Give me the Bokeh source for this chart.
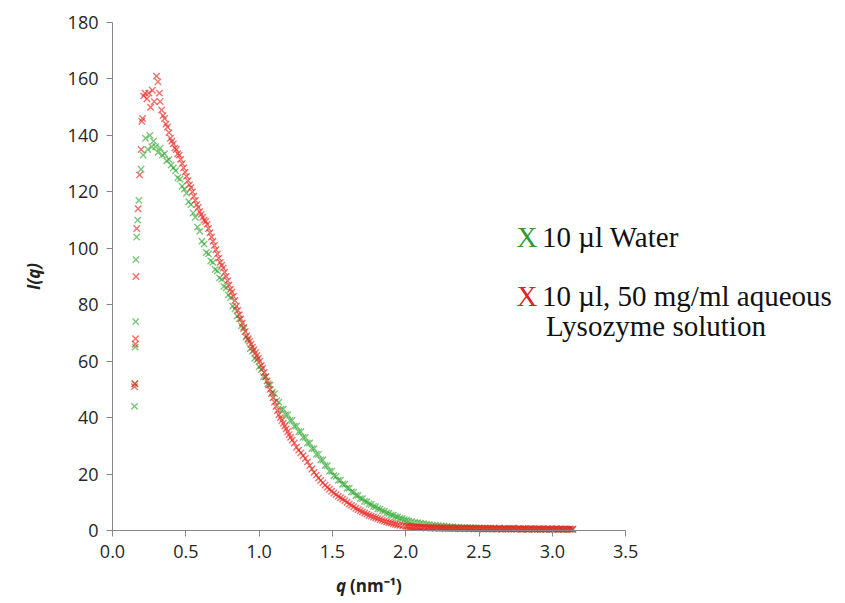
from bokeh.plotting import figure
from bokeh.models import Label, FixedTicker, Range1d
from bokeh.embed import file_html
from bokeh.resources import INLINE
import math

# ---------------- data ----------------
water_q = [0.150, 0.153, 0.155, 0.158, 0.160, 0.165, 0.172, 0.180, 0.195, 0.210, 0.225, 0.240, 0.255, 0.268,
           0.280, 0.295, 0.310, 0.325, 0.340, 0.355, 0.370, 0.385, 0.400, 0.415, 0.430, 0.445, 0.460, 0.475,
           0.490, 0.505, 0.520, 0.535, 0.550, 0.565, 0.580, 0.595, 0.610, 0.625, 0.640, 0.655, 0.670, 0.685,
           0.700, 0.715, 0.730, 0.745, 0.760, 0.775, 0.790, 0.805, 0.820, 0.835, 0.850, 0.865, 0.880, 0.895,
           0.910, 0.925, 0.940, 0.955, 0.970, 0.985, 1.000, 1.015, 1.030, 1.045, 1.060, 1.075, 1.090, 1.105,
           1.120, 1.135, 1.150, 1.165, 1.180, 1.195, 1.210, 1.225, 1.240, 1.255, 1.270, 1.285, 1.300, 1.315,
           1.330, 1.345, 1.360, 1.375, 1.390, 1.405, 1.420, 1.435, 1.450, 1.465, 1.480, 1.495, 1.510, 1.525,
           1.540, 1.555, 1.570, 1.585, 1.600, 1.615, 1.630, 1.645, 1.660, 1.675, 1.690, 1.705, 1.720, 1.735,
           1.750, 1.765, 1.780, 1.795, 1.810, 1.825, 1.840, 1.855, 1.870, 1.885, 1.900, 1.915, 1.930, 1.945,
           1.960, 1.975, 1.990, 2.005, 2.020, 2.040, 2.060, 2.080, 2.100, 2.120, 2.140, 2.160, 2.180, 2.200,
           2.220, 2.240, 2.260, 2.280, 2.300, 2.320, 2.340, 2.360, 2.380, 2.400, 2.420, 2.440, 2.460, 2.480,
           2.500, 2.520, 2.540, 2.560, 2.580, 2.600, 2.620, 2.640, 2.660, 2.680, 2.700, 2.720, 2.740, 2.760,
           2.780, 2.800, 2.820, 2.840, 2.860, 2.880, 2.900, 2.920, 2.940, 2.960, 2.980, 3.000, 3.020, 3.040,
           3.060, 3.080, 3.100, 3.120, 3.140]
water_I = [44, 52, 65, 74, 96, 104, 110, 117, 128, 133, 139, 135, 140, 136,
           138, 136, 134, 135.5, 133, 133.5, 131, 131.5, 129.5, 128.5, 127.5, 125, 124.5, 122,
           121, 119.5, 116.5, 115.5, 112.5, 111, 107.5, 106, 102.5, 101.5, 98.5, 98, 95.5, 95,
           92.5, 92, 89.5, 89, 86.5, 86, 83.5, 82.5, 79.5, 78.5, 76, 75, 72.5, 71.5,
           68.5, 67.5, 64.5, 63.5, 61, 60.5, 58, 57, 54.5, 54.5, 52, 51.5, 49, 48.5,
           46, 45.5, 43, 43, 41, 41, 39, 39, 37, 37, 35, 35, 33, 33,
           31, 31, 29, 29, 27, 27, 25, 25, 23, 23, 21, 21, 19.4, 19.2,
           17.8, 17.8, 16.4, 16.4, 15, 15, 13.7, 13.6, 12.4, 12.4, 11.3, 11.3, 10.3, 10.2,
           9.4, 9.2, 8.5, 8.4, 7.7, 7.6, 7.0, 6.8, 6.2, 6.1, 5.5, 5.4, 4.9, 4.8,
           4.3, 4.2, 3.8, 3.7, 3.4, 3.2, 2.9, 2.8, 2.6, 2.4, 2.2, 2.1, 1.9, 1.8,
           1.7, 1.6, 1.5, 1.4, 1.3, 1.3, 1.2, 1.1, 1.0, 1.1, 0.9, 1.0, 0.9, 0.8,
           0.9, 0.8, 0.7, 0.8, 0.7, 0.8, 0.6, 0.7, 0.6, 0.7, 0.6, 0.5, 0.7, 0.5,
           0.6, 0.5, 0.6, 0.4, 0.6, 0.5, 0.4, 0.6, 0.5, 0.4, 0.5, 0.4, 0.5, 0.4,
           0.5, 0.4, 0.5, 0.4, 0.4]

lyso_q = [0.150, 0.152, 0.155, 0.157, 0.160, 0.165, 0.175, 0.185, 0.195, 0.200, 0.205, 0.212, 0.222, 0.235,
          0.248, 0.260, 0.272, 0.285, 0.300, 0.310, 0.320, 0.325, 0.335, 0.345, 0.355, 0.365,
          0.375, 0.385, 0.395, 0.405, 0.415, 0.425, 0.435, 0.445, 0.455, 0.465, 0.475, 0.485, 0.495, 0.505,
          0.515, 0.525, 0.535, 0.545, 0.555, 0.565, 0.575, 0.585, 0.595, 0.605, 0.615, 0.625, 0.635, 0.645,
          0.655, 0.665, 0.675, 0.685, 0.695, 0.705, 0.715, 0.725, 0.735, 0.745, 0.755, 0.765, 0.775, 0.785,
          0.795, 0.805, 0.815, 0.825, 0.835, 0.845, 0.855, 0.865, 0.875, 0.885, 0.895, 0.905, 0.915, 0.925,
          0.935, 0.945, 0.955, 0.965, 0.975, 0.985, 0.995, 1.005, 1.015, 1.025, 1.035, 1.045, 1.055, 1.065,
          1.075, 1.085, 1.095, 1.105, 1.115, 1.125, 1.135, 1.145, 1.155, 1.165, 1.175, 1.185, 1.195, 1.205,
          1.215, 1.225, 1.240, 1.255, 1.270, 1.285, 1.300, 1.315, 1.330, 1.345, 1.360, 1.375, 1.390, 1.405,
          1.420, 1.435, 1.450, 1.465, 1.480, 1.495, 1.510, 1.525, 1.540, 1.555, 1.570, 1.585, 1.600, 1.615,
          1.630, 1.645, 1.660, 1.675, 1.690, 1.705, 1.720, 1.735, 1.750, 1.765, 1.780, 1.795, 1.810, 1.825,
          1.840, 1.855, 1.870, 1.885, 1.900, 1.915, 1.930, 1.945, 1.960, 1.980,
          2.00, 2.01, 2.02, 2.03, 2.04, 2.05, 2.06, 2.07, 2.08, 2.09,
          2.10, 2.11, 2.12, 2.13, 2.14, 2.15, 2.16, 2.17, 2.18, 2.19,
          2.20, 2.21, 2.22, 2.23, 2.24, 2.25, 2.26, 2.27, 2.28, 2.29,
          2.30, 2.31, 2.32, 2.33, 2.34, 2.35, 2.36, 2.37, 2.38, 2.39,
          2.40, 2.41, 2.42, 2.43, 2.44, 2.45, 2.46, 2.47, 2.48, 2.49,
          2.50, 2.51, 2.52, 2.53, 2.54, 2.55, 2.56, 2.57, 2.58, 2.59,
          2.60, 2.61, 2.62, 2.63, 2.64, 2.65, 2.66, 2.67, 2.68, 2.69,
          2.70, 2.71, 2.72, 2.73, 2.74, 2.75, 2.76, 2.77, 2.78, 2.79,
          2.80, 2.81, 2.82, 2.83, 2.84, 2.85, 2.86, 2.87, 2.88, 2.89,
          2.90, 2.91, 2.92, 2.93, 2.94, 2.95, 2.96, 2.97, 2.98, 2.99,
          3.00, 3.01, 3.02, 3.03, 3.04, 3.05, 3.06, 3.07, 3.08, 3.09,
          3.10, 3.11, 3.12, 3.13, 3.14]
lyso_I = [51, 52, 66, 68, 90, 107, 114, 126, 135, 145, 146, 154, 155, 153,
          155, 150, 156, 152, 161, 159, 155, 152, 149, 147, 146, 144,
          143, 141, 139, 138, 137, 135.5, 135, 133.5, 133, 131.5, 130, 128.5, 127, 125.5,
          124, 122.5, 121.5, 120, 118.5, 117, 115.5, 114.5, 113, 112, 111, 110, 109.5, 108.5,
          107, 105.5, 104, 102.5, 101, 99.5, 98, 96.5, 95, 94, 93, 91.5, 90, 88.5,
          87, 85.5, 84.5, 83, 81.5, 79.5, 78, 76.5, 75, 73.5, 72, 70.5, 69, 68,
          67, 66, 65, 64, 63, 62, 61, 60, 58.5, 57.5, 56, 54.5, 53, 51.5,
          50, 48.5, 47, 45.5, 44, 42.5, 41, 40, 39, 38, 37, 36, 35, 34,
          33, 32, 31, 29.5, 28.5, 27.5, 26.5, 25.5, 24.3, 23, 21.8, 20.6, 19.6, 18.6,
          17.7, 16.9, 16.1, 15.3, 14.6, 13.9, 13.3, 12.7, 12.1, 11.6, 11.1, 10.6, 10.0, 9.4,
          8.9, 8.4, 7.9, 7.4, 7.0, 6.6, 6.2, 5.8, 5.4, 5.1, 4.8, 4.5, 4.2, 3.9,
          3.6, 3.3, 3.0, 2.8, 2.6, 2.4, 2.2, 2.0, 1.8, 1.7,
          1.5, 1.5, 1.4, 1.4, 1.3, 1.3, 1.2, 1.3, 1.1, 1.2,
          1.0, 1.1, 1.0, 1.2, 0.9, 1.0, 1.1, 0.9, 1.0, 0.9,
          0.8, 1.0, 0.9, 0.8, 1.0, 0.8, 0.9, 0.7, 0.9, 0.8,
          0.8, 0.9, 0.7, 0.8, 0.7, 0.9, 0.8, 0.6, 0.8, 0.7,
          0.8, 0.7, 0.9, 0.6, 0.7, 0.8, 0.6, 0.7, 0.8, 0.6,
          0.8, 0.6, 0.7, 0.5, 0.8, 0.6, 0.7, 0.6, 0.8, 0.5,
          0.6, 0.7, 0.5, 0.6, 0.8, 0.5, 0.6, 0.7, 0.5, 0.6,
          0.5, 0.7, 0.6, 0.8, 0.5, 0.6, 0.5, 0.7, 0.6, 0.4,
          0.7, 0.5, 0.6, 0.4, 0.6, 0.7, 0.5, 0.6, 0.4, 0.6,
          0.5, 0.7, 0.4, 0.5, 0.6, 0.4, 0.5, 0.7, 0.4, 0.5,
          0.6, 0.4, 0.5, 0.7, 0.4, 0.5, 0.6, 0.4, 0.5, 0.6,
          0.4, 0.5, 0.6, 0.4, 0.5]

x_ticks = [0.0, 0.5, 1.0, 1.5, 2.0, 2.5, 3.0, 3.5]
x_tick_labels = ["0.0", "0.5", "1.0", "1.5", "2.0", "2.5", "3.0", "3.5"]
y_ticks = [0, 20, 40, 60, 80, 100, 120, 140, 160, 180]

legend_names = ["10 \u00b5l Water", "10 \u00b5l, 50 mg/ml aqueous", "Lysozyme solution"]

# ---------------- figure ----------------
# the frame fills the whole canvas; axes are pinned at q=0 / I=0 and bounded
W, H = 840, 598
PX_PER_Q = 146.6
PX_PER_I = 2.822
X0, Y0 = 112, 530  # canvas pixel of the origin
x_range = Range1d(-X0 / PX_PER_Q, (W - X0) / PX_PER_Q)
y_range = Range1d(-(H - Y0) / PX_PER_I, Y0 / PX_PER_I)

p = figure(frame_width=W, frame_height=H, x_range=x_range, y_range=y_range,
           output_backend="svg", toolbar_location=None, min_border=0)
p.outline_line_color = None
p.background_fill_color = "white"
p.border_fill_color = "white"
p.xgrid.visible = False
p.ygrid.visible = False

p.scatter(water_q, water_I, marker="x", size=9, line_color="#2aa52a", line_alpha=0.62, line_width=1.4)
p.scatter(lyso_q, lyso_I, marker="x", size=9, line_color="#e62620", line_alpha=0.66, line_width=1.4)

p.xaxis.fixed_location = 0
p.yaxis.fixed_location = 0
p.xaxis.bounds = (0, 3.5)
p.yaxis.bounds = (0, 180)

for ax in (p.xaxis[0], p.yaxis[0]):
    ax.axis_line_color = "#868686"
    ax.major_tick_line_color = "#868686"
    ax.minor_tick_line_color = None
    ax.major_tick_in = 0
    ax.major_tick_out = 6
    ax.major_label_text_font = "Open Sans"
    ax.major_label_text_font_size = "18px"
    ax.major_label_text_color = "#262626"
    ax.major_label_standoff = 8

p.xaxis.ticker = FixedTicker(ticks=x_ticks)
p.xaxis.major_label_overrides = {t: l for t, l in zip(x_ticks, x_tick_labels)}
p.yaxis.ticker = FixedTicker(ticks=y_ticks)

# axis titles
p.add_layout(Label(x=-0.537, y=90, text="I(q)", angle=math.pi / 2, text_align="center",
                   text_baseline="middle", text_font="Open Sans", text_font_size="17px",
                   text_font_style="bold italic", text_color="#222222"))
p.add_layout(Label(x=1.62, y=-19.5, text="q", text_align="right", text_baseline="middle",
                   text_font="Open Sans", text_font_size="17px", text_font_style="bold italic",
                   text_color="#222222", x_offset=-4))
p.add_layout(Label(x=1.62, y=-19.5, text="(nm\u207b\u00b9)", text_align="left", text_baseline="middle",
                   text_font="Open Sans", text_font_size="17px", text_font_style="bold",
                   text_color="#222222"))

# legend as annotations
serif = "Liberation Serif"
fs = "29px"
p.add_layout(Label(x=2.756, y=104.0, text="X", text_font=serif, text_font_size=fs,
                   text_color="#2e9a2e", text_baseline="alphabetic"))
p.add_layout(Label(x=2.93, y=104.0, text=legend_names[0], text_font=serif, text_font_size=fs,
                   text_color="#111111", text_baseline="alphabetic"))
p.add_layout(Label(x=2.756, y=83.0, text="X", text_font=serif, text_font_size=fs,
                   text_color="#e02020", text_baseline="alphabetic"))
p.add_layout(Label(x=2.93, y=83.0, text=legend_names[1], text_font=serif, text_font_size=fs,
                   text_color="#111111", text_baseline="alphabetic"))
p.add_layout(Label(x=2.957, y=72.6, text=legend_names[2], text_font=serif, text_font_size=fs,
                   text_color="#111111", text_baseline="alphabetic"))

open("out.html", "w").write(file_html(p, INLINE))
